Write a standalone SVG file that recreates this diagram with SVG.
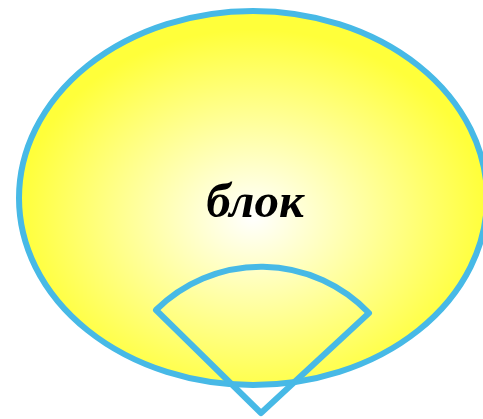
<svg xmlns="http://www.w3.org/2000/svg" width="483" height="419" viewBox="0 0 483 419">
<defs>
<radialGradient id="g" cx="0.5" cy="0.55" r="0.5">
<stop offset="0" stop-color="#ffffff"/>
<stop offset="1" stop-color="#ffff3a"/>
</radialGradient>
<style>
.s{stroke:#47b9e6;stroke-width:6;stroke-linejoin:round}
.t{font-family:"Liberation Serif",serif;font-weight:bold;font-style:italic;font-size:49px;fill:#000}
</style>
</defs>
<g id="block">
<ellipse class="s" cx="253" cy="198" rx="234" ry="187" fill="url(#g)"/>
<text class="t" x="255" y="217" text-anchor="middle">блок</text>
</g>
<g id="sector">
<path class="s" fill="none" d="M261,413 L156,310 A149,149 0 0 1 369,313 Z"/>
</g>
</svg>
